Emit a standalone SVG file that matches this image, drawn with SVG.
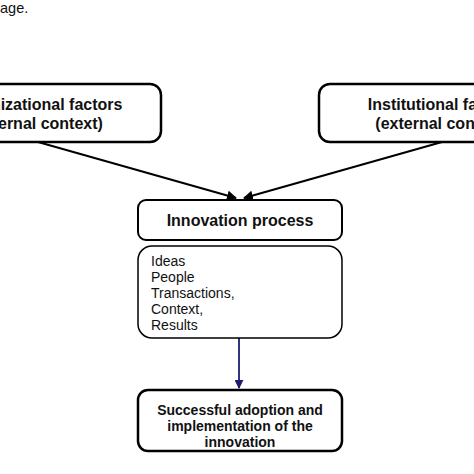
<svg xmlns="http://www.w3.org/2000/svg" width="474" height="474" viewBox="0 0 474 474">
  <defs>
    <marker id="ah" viewBox="0 0 10 10" refX="9" refY="5" markerWidth="5" markerHeight="5" orient="auto" markerUnits="strokeWidth">
      <path d="M0,0 L10,5 L0,10 z" fill="#000"/>
    </marker>
    <marker id="ahb" viewBox="0 0 10 10" refX="9" refY="5" markerWidth="5" markerHeight="5" orient="auto" markerUnits="strokeWidth">
      <path d="M0,0 L10,5 L0,10 z" fill="#1c1c70"/>
    </marker>
  </defs>
  <style>
    .box { fill: #fff; stroke: #000; stroke-width: 2.5; }
    .thin { fill: #fff; stroke: #000; stroke-width: 1.5; }
    .b { font-family: "Liberation Sans", Arial, sans-serif; font-weight: bold; fill: #111; }
    .r { font-family: "Liberation Sans", Arial, sans-serif; fill: #111; }
    .conn { stroke: #000; stroke-width: 2; fill: none; }
  </style>
  <rect width="474" height="474" fill="#fff"/>
  <text class="r" x="0" y="13" font-size="14.5">age.</text>

  <g id="connectors">
    <line class="conn" x1="38" y1="142" x2="236" y2="198" marker-end="url(#ah)"/>
    <line class="conn" x1="442" y1="142" x2="244" y2="198" marker-end="url(#ah)"/>
    <line x1="239" y1="338" x2="239" y2="388" stroke="#1c1c70" stroke-width="1.8" marker-end="url(#ahb)"/>
  </g>

  <g id="org-factors">
    <rect class="box" x="-85" y="84" width="246" height="58" rx="11"/>
    <text class="b" font-size="16" text-anchor="middle" x="38" y="110">Organizational factors</text>
    <text class="b" font-size="16" text-anchor="middle" x="38" y="129">(internal context)</text>
  </g>

  <g id="inst-factors">
    <rect class="box" x="319" y="84" width="246" height="58" rx="11"/>
    <text class="b" font-size="16" text-anchor="middle" x="442" y="110">Institutional factors</text>
    <text class="b" font-size="16" text-anchor="middle" x="442" y="129">(external context)</text>
  </g>

  <g id="innovation-process">
    <rect class="box" x="138" y="200" width="204" height="40" rx="8" style="stroke-width:2"/>
    <text class="b" font-size="16" text-anchor="middle" x="240" y="226">Innovation process</text>
  </g>

  <g id="elements">
    <rect class="thin" x="138" y="246" width="204" height="92" rx="14"/>
    <text class="r" font-size="14" x="151" y="266">Ideas</text>
    <text class="r" font-size="14" x="151" y="282">People</text>
    <text class="r" font-size="14" x="151" y="298">Transactions,</text>
    <text class="r" font-size="14" x="151" y="314">Context,</text>
    <text class="r" font-size="14" x="151" y="330">Results</text>
  </g>

  <g id="adoption">
    <rect class="box" x="138" y="390" width="204" height="61" rx="10"/>
    <text class="b" font-size="14" text-anchor="middle" x="240" y="415">Successful adoption and</text>
    <text class="b" font-size="14" text-anchor="middle" x="240" y="431">implementation of the</text>
    <text class="b" font-size="14" text-anchor="middle" x="240" y="447">innovation</text>
  </g>
</svg>
